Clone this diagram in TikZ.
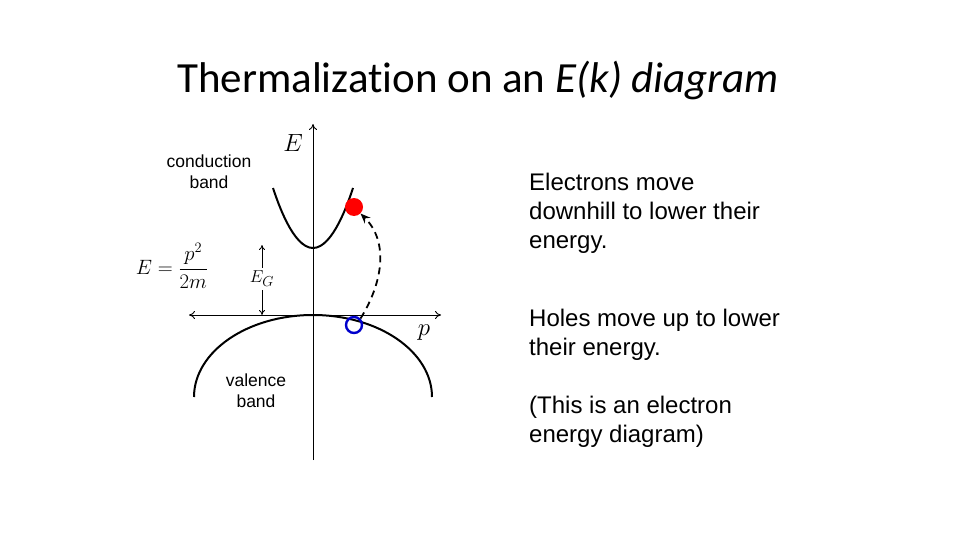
\documentclass[tikz,border=0pt]{standalone}
\usepackage{amsmath}
\usepackage{fontspec}
\setmainfont{Liberation Sans}
\newfontfamily\titlefont[Ligatures=NoCommon]{Carlito}
\usetikzlibrary{arrows.meta}

\begin{document}
\begin{tikzpicture}[x=1pt, y=-1pt, >=Stealth,
    axis/.style={line width=0.9pt, {To[length=6pt,width=8pt]}-{To[length=6pt,width=8pt]}},
    band/.style={line width=2pt},
    txt/.style={anchor=base west, inner sep=0pt, font=\fontsize{24}{29}\selectfont},
    bandlabel/.style={align=center, inner sep=0pt, font=\fontsize{17.5}{21}\selectfont}]
    \useasboundingbox (0,0) rectangle (960,540);
    % title
    \node[inner sep=0pt] (title) at (478,80) {\titlefont\fontsize{43}{50}\selectfont Thermalization on an \textit{E(k) diagram}};
    % axes
    \coordinate (origin) at (313,315);
    \coordinate (Etop) at (313,124);
    \coordinate (Ebot) at (313,460);
    \coordinate (pleft) at (189,315);
    \coordinate (pright) at (441,315);
    \draw[line width=0.9pt, -{To[length=6pt,width=8pt]}] (Ebot) -- (Etop);
    \draw[axis] (pleft) -- (pright);
    \node (Elabel) at (293,143) {\fontsize{25}{30}\selectfont$E$};
    \node (plabel) at (424,333) {\fontsize{25}{30}\selectfont$p$};
    % conduction band
    \draw[band] (273,188) parabola bend (313,248) (353,188);
    % valence band
    \draw[band] (194,397) arc[start angle=180, end angle=0, x radius=119, y radius=-82];
    % band gap
    \node (EG) at (262,279) {\fontsize{19}{22}\selectfont$E_G$};
    \coordinate (gaptop) at (262,245);
    \coordinate (gapbot) at (262,315);
    \draw[line width=0.8pt, -{To[length=5pt,width=6pt]}] (EG.north) -- (gaptop);
    \draw[line width=0.8pt, -{To[length=5pt,width=6pt]}] (EG.south) -- (gapbot);
    % carriers
    \node[circle, fill=red, minimum size=18pt, inner sep=0pt] (elec) at (354,207) {};
    \node[circle, draw=blue!80!black, line width=2.4pt, minimum size=16pt, inner sep=0pt] (hole) at (354,325) {};
    \draw[line width=1.8pt, dash pattern=on 7pt off 5pt, -{Stealth[length=10pt,width=8pt]}]
        (hole.north east) to[out=58, in=-45] (elec.south east);
    % band labels
    \node[bandlabel] (cband) at (209,172) {conduction\\band};
    \node[bandlabel] (vband) at (256,391) {valence\\band};
    \node (disp) at (172,266) {\fontsize{22}{26}\selectfont$E=\dfrac{p^2}{2m}$};
    % explanation
    \node[txt] (t1) at (529,190) {Electrons move};
    \node[txt] (t2) at (529,219) {downhill to lower their};
    \node[txt] (t3) at (529,248) {energy.};
    \node[txt] (t4) at (529,326) {Holes move up to lower};
    \node[txt] (t5) at (529,355) {their energy.};
    \node[txt] (t6) at (529,413) {(This is an electron};
    \node[txt] (t7) at (529,442) {energy diagram)};
\end{tikzpicture}
\end{document}
